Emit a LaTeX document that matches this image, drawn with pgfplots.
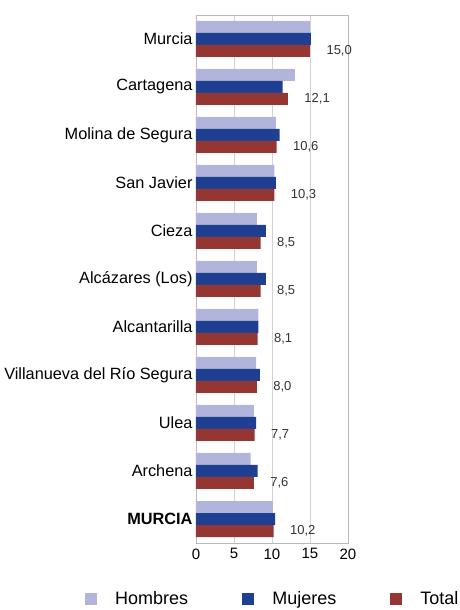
\documentclass[border=0pt]{standalone}
\usepackage{pgfplots}
\pgfplotsset{compat=1.18}
\usepackage{fontspec}
\setmainfont{Liberation Sans}
\definecolor{cH}{HTML}{B2B5DB}
\definecolor{cM}{HTML}{1F3F92}
\definecolor{cT}{HTML}{943634}
\begin{document}
\begin{tikzpicture}
\begin{axis}[
  scale only axis,
  width=152pt, height=528pt,
  xbar, bar width=12pt,
  xmin=0, xmax=20, ymin=-0.5, ymax=10.5,
  xtick={0,5,10,15,20},
  ytick={0,...,10},
  yticklabels={{\textbf{MURCIA}},Archena,Ulea,Villanueva del Río Segura,Alcantarilla,Alcázares (Los),Cieza,San Javier,Molina de Segura,Cartagena,Murcia},
  /pgf/number format/assume math mode=true,
  xticklabel style={font=\fontsize{15}{17}\selectfont, yshift=-2pt},
  yticklabel style={font=\fontsize{16.3}{18}\selectfont},
  major tick length=0pt,
  xmajorgrids, grid style={gray!35, line width=0.8pt},
  axis line style={gray!55, line width=0.8pt},
  legend columns=3,
  legend image code/.code={\fill[#1] (0pt,-6pt) rectangle (12pt,6pt);},
  legend style={draw=none, inner sep=0pt, font=\fontsize{18}{20}\selectfont,
    at={(axis description cs:-0.730,-0.106)}, anchor=west,
    /tikz/every odd column/.append style={column sep=16pt},
    /tikz/every even column/.append style={column sep=52pt}},
]
\addplot[fill=cH, draw=none, bar shift=12pt] coordinates {
 (15.0,10) (13.0,9) (10.5,8) (10.3,7) (8.0,6) (8.0,5) (8.2,4) (7.9,3) (7.6,2) (7.2,1) (10.1,0)};
\addlegendentry{Hombres}
\addplot[fill=cM, draw=none, bar shift=0pt] coordinates {
 (15.1,10) (11.4,9) (11.0,8) (10.5,7) (9.2,6) (9.2,5) (8.2,4) (8.4,3) (7.9,2) (8.1,1) (10.4,0)};
\addlegendentry{Mujeres}
\addplot[fill=cT, draw=none, bar shift=-12pt,
  point meta=x,
  nodes near coords={\pgfmathprintnumber[fixed,fixed zerofill,precision=1,use comma]{\pgfplotspointmeta}},
  every node near coord/.append style={font=\fontsize{13}{15}\selectfont, text=black!80, xshift=13pt, anchor=west}] coordinates {
 (15.0,10) (12.1,9) (10.6,8) (10.3,7) (8.5,6) (8.5,5) (8.1,4) (8.0,3) (7.7,2) (7.6,1) (10.2,0)};
\addlegendentry{Total}
\end{axis}
\pgfresetboundingbox
\path (-196pt,-67pt) rectangle (263pt,543pt);
\end{tikzpicture}
\end{document}
